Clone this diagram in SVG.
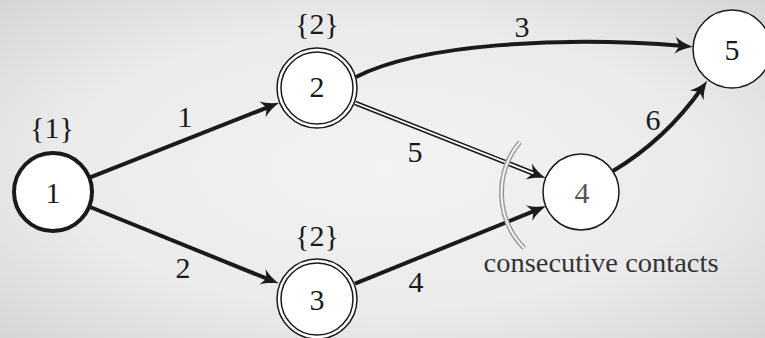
<svg xmlns="http://www.w3.org/2000/svg" width="765" height="338" viewBox="0 0 765 338">
  <defs>
    <radialGradient id="bg" cx="50%" cy="50%" r="70%">
      <stop offset="0" stop-color="#f3f3f3"/>
      <stop offset="0.6" stop-color="#ebebeb"/>
      <stop offset="1" stop-color="#d6d6d6"/>
    </radialGradient>
    <marker id="arr" markerUnits="userSpaceOnUse" markerWidth="22" markerHeight="20" viewBox="-2 -10 22 20" refX="9" refY="0" orient="auto">
      <path d="M18,0 C11,2 5,4.5 0,8.5 L4.5,0 L0,-8.5 C5,-4.5 11,-2 18,0 Z" fill="#1a1a1a"/>
    </marker>
  </defs>
  <rect x="0" y="0" width="765" height="338" fill="url(#bg)"/>

  <g id="connectors" fill="none" stroke="#1a1a1a" stroke-width="4">
    <line x1="90.2" y1="177.3" x2="270.9" y2="106.1" marker-end="url(#arr)"/>
    <line x1="90.1" y1="207.0" x2="270.7" y2="280.2" marker-end="url(#arr)"/>
    <line x1="355.0" y1="283.6" x2="537.5" y2="209.7" marker-end="url(#arr)"/>
    <path d="M356,77 C420,44 560,36 684,46" marker-end="url(#arr)"/>
    <path d="M613,171 Q665,140 702,88" marker-end="url(#arr)"/>
    <line stroke-width="5" x1="355.2" y1="103.0" x2="537.2" y2="174.8" marker-end="url(#arr)"/>
    <line stroke="#ffffff" stroke-width="1.8" x1="355.2" y1="103.0" x2="533.5" y2="173.3"/>
  </g>

  <text x="177.5" y="127" font-family="Liberation Serif" font-size="30" fill="#1a1a1a">1</text>
  <text x="175.5" y="278" font-family="Liberation Serif" font-size="30" fill="#1a1a1a">2</text>
  <text x="514.5" y="37" font-family="Liberation Serif" font-size="30" fill="#1a1a1a">3</text>
  <text x="408.5" y="292" font-family="Liberation Serif" font-size="30" fill="#1a1a1a">4</text>
  <text x="407.5" y="162" font-family="Liberation Serif" font-size="30" fill="#1a1a1a">5</text>
  <text x="645.5" y="130" font-family="Liberation Serif" font-size="30" fill="#1a1a1a">6</text>

  <g id="contacts">
    <path d="M520,142 A79,79 0 0 0 524,248" fill="none" stroke="#9a9a9a" stroke-width="5"/>
    <path d="M520,142 A79,79 0 0 0 524,248" fill="none" stroke="#f4f4f4" stroke-width="2"/>
  </g>
  <text x="483.5" y="272" font-family="Liberation Serif" font-size="28" fill="#333333" textLength="235" lengthAdjust="spacingAndGlyphs">consecutive contacts</text>

  <g id="node1">
    <circle cx="53" cy="192" r="39" fill="#ffffff" stroke="#1a1a1a" stroke-width="4"/>
  </g>
  <text x="45.5" y="203" font-family="Liberation Serif" font-size="30" fill="#1a1a1a">1</text>
  <text x="30.1" y="138" font-family="Liberation Serif" font-size="30" fill="#1a1a1a">{1}</text>

  <g id="node2">
    <circle cx="317" cy="88" r="40" fill="#ffffff" stroke="#1a1a1a" stroke-width="1.5"/>
    <circle cx="317" cy="88" r="36" fill="#ffffff" stroke="#1a1a1a" stroke-width="1.5"/>
  </g>
  <text x="309.5" y="97" font-family="Liberation Serif" font-size="30" fill="#1a1a1a">2</text>
  <text x="295.1" y="34" font-family="Liberation Serif" font-size="30" fill="#1a1a1a">{2}</text>

  <g id="node3">
    <circle cx="317" cy="299" r="40" fill="#ffffff" stroke="#1a1a1a" stroke-width="1.5"/>
    <circle cx="317" cy="299" r="36" fill="#ffffff" stroke="#1a1a1a" stroke-width="1.5"/>
  </g>
  <text x="309.5" y="310" font-family="Liberation Serif" font-size="30" fill="#1a1a1a">3</text>
  <text x="295.1" y="246" font-family="Liberation Serif" font-size="30" fill="#1a1a1a">{2}</text>

  <g id="node4">
    <circle cx="581" cy="192" r="38" fill="#ffffff" stroke="#1a1a1a" stroke-width="1.5"/>
  </g>
  <text x="574.5" y="203" font-family="Liberation Serif" font-size="30" fill="#555555">4</text>

  <g id="node5">
    <circle cx="732" cy="49" r="39" fill="#ffffff" stroke="#1a1a1a" stroke-width="1.5"/>
  </g>
  <text x="724.5" y="60" font-family="Liberation Serif" font-size="30" fill="#1a1a1a">5</text>
</svg>
